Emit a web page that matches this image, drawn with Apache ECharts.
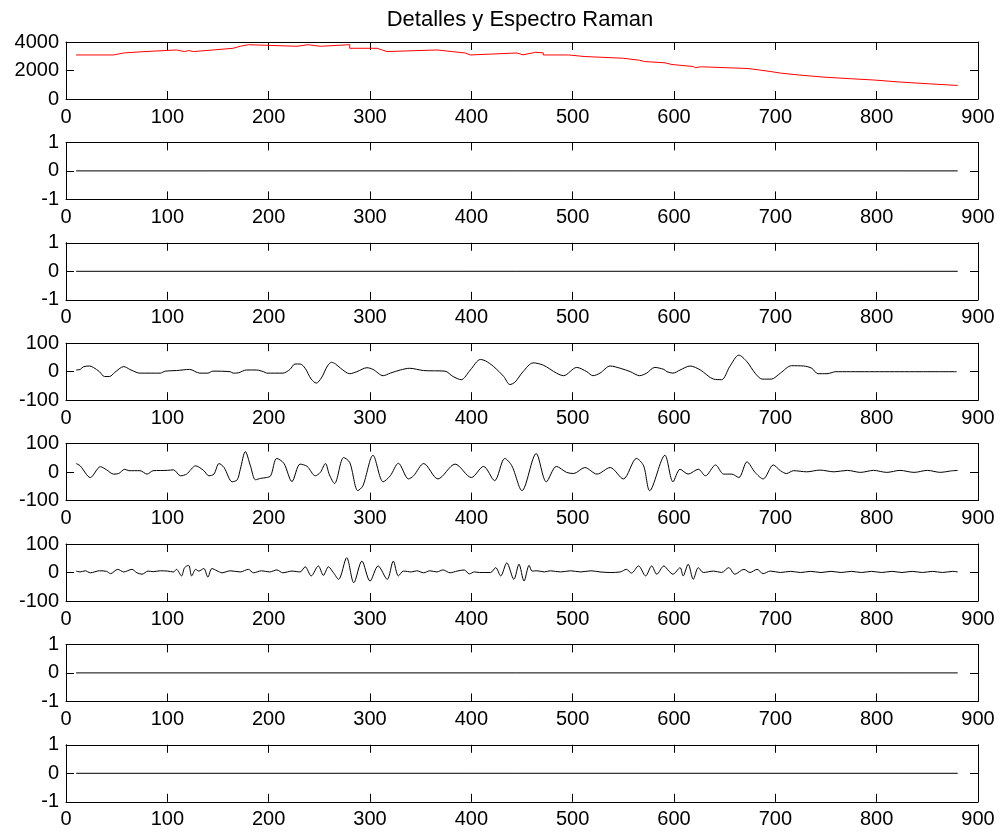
<!DOCTYPE html>
<html>
<head>
<meta charset="utf-8">
<title>Detalles y Espectro Raman</title>
<script src="https://cdn.jsdelivr.net/npm/echarts@6/dist/echarts.min.js"></script>
<style>
  html, body { margin: 0; padding: 0; background: #fff; }
  #chart { width: 1000px; height: 833px; }
</style>
</head>
<body>
<div id="chart"></div>
<script>
// Spectrum approximation (step levels: [x where level starts, level])
const ramanSteps = [
  [10,3090],[47,3230],[57,3330],[78,3440],[109,3330],[117,3400],[121,3330],[126,3440],
  [145,3560],[165,3700],[172,3810],[180,3700],[228,3810],[239,3700],[251,3810],[280,3560],
  [307,3440],[312,3330],[317,3440],[366,3330],[381,3230],[394,3090],[399,3230],[445,3100],
  [451,3240],[461,3280],[463,3240],[471,3090],[496,2980],[512,2860],[550,2720],[566,2630],
  [571,2540],[591,2420],[598,2280],[619,2200],[621,2260],[627,2140],[673,2050],[683,1930],
  [695,1810],[706,1680],[724,1540],[747,1420],[775,1330],[798,1190],[823,1070],[851,950],[880,950]
];

// Empty detail levels
const flatDetail = [[10,0],[880,0]];

// Detail level (coarse)
const detailA = [
  [10,6],[14,8],[17,17],[23,20],[27,15],[33,0],[38,-17],[43,-17],[48,-3],[57,18],[63,8],[70,-3],
  [73,-5],[93,-5],[98,2],[109,4],[122,8],[132,-5],[140,-5],[145,2],[162,0],[165,-5],[170,-4],
  [178,6],[188,6],[195,0],[198,-5],[214,-5],[221,8],[226,27],[231,27],[236,12],[242,-26],
  [247,-40],[252,-22],[258,20],[262,33],[266,27],[271,12],[280,-7],[287,0],[297,14],[303,8],
  [313,-14],[320,-5],[330,6],[339,12],[353,4],[374,2],[382,-17],[390,-28],[399,6],[409,43],
  [414,38],[422,18],[432,-17],[438,-45],[443,-37],[451,0],[461,31],[471,23],[484,-5],[491,-14],
  [504,15],[514,0],[520,-14],[527,-5],[537,20],[547,12],[557,0],[566,-14],[573,-5],[581,15],
  [590,8],[593,0],[599,-5],[606,6],[616,20],[626,6],[639,-26],[647,-28],[655,18],[664,58],
  [672,35],[680,-5],[687,-26],[696,-26],[705,-5],[716,21],[728,20],[736,12],[742,-7],[751,-7],
  [756,-3],[759,0],[879,0]
];

// Detail level (medium)
const detailB = [
  [10,30],[14,22],[24,-19],[34,19],[40,8],[47,-7],[52,-5],[58,10],[62,5],[73,5],[80,-7],[86,5],
  [100,6],[106,8],[113,-13],[119,-7],[128,22],[136,5],[141,-13],[146,-7],[151,30],[156,16],
  [164,-34],[169,-27],[172,10],[177,72],[182,22],[187,-27],[192,-22],[198,-19],[202,-13],
  [208,48],[215,31],[223,-33],[231,28],[238,20],[246,-13],[251,-1],[256,30],[260,-10],[265,-40],
  [274,51],[280,34],[288,-65],[293,-48],[303,59],[313,-34],[320,-13],[328,31],[338,-24],
  [343,-13],[353,30],[367,-24],[384,28],[400,-19],[412,20],[423,-30],[433,48],[440,22],
  [450,-65],[464,65],[474,-34],[484,20],[494,-1],[501,-5],[512,16],[524,-7],[537,16],[550,-24],
  [563,48],[570,22],[576,-65],[591,59],[599,-34],[606,10],[614,-7],[624,10],[631,-13],[641,25],
  [649,-7],[657,-7],[664,-19],[672,36],[680,-1],[688,-24],[698,25],[705,5],[711,-5],[718,5],
  [731,1],[744,7],[758,1],[771,6],[784,-1],[797,6],[810,-1],[823,6],[837,-1],[850,6],[863,-1],
  [873,4],[880,6]
];

// Detail level (fine)
const detailC = [
  [10,5],[14,2],[19,6],[24,-1],[33,6],[40,4],[44,-4],[51,11],[57,2],[65,11],[70,-1],[75,-6],
  [81,5],[86,3],[93,6],[100,5],[106,2],[109,11],[114,-12],[117,17],[121,25],[124,-12],[128,11],
  [131,5],[136,14],[140,-16],[144,14],[149,6],[154,-1],[162,6],[172,2],[180,11],[185,-1],
  [193,6],[201,2],[208,9],[214,-1],[223,5],[231,2],[236,20],[242,-12],[249,23],[254,-10],
  [259,20],[264,-1],[269,-24],[277,52],[284,-36],[292,40],[300,-30],[308,23],[317,-24],
  [323,40],[328,-12],[333,5],[341,2],[346,6],[353,-1],[359,6],[366,2],[372,9],[379,-1],
  [386,5],[393,9],[398,-5],[403,2],[408,0],[419,0],[424,17],[429,-12],[435,34],[442,-24],
  [447,29],[452,-30],[457,25],[460,5],[465,6],[472,2],[478,6],[488,2],[498,6],[508,2],[518,6],
  [527,2],[537,0],[547,2],[553,11],[558,-2],[565,23],[572,-12],[578,23],[583,-6],[590,23],
  [595,5],[599,-6],[606,17],[609,-12],[614,29],[619,-24],[624,17],[629,0],[639,5],[647,0],
  [654,17],[660,-6],[669,11],[675,0],[682,11],[688,-4],[695,5],[705,0],[715,4],[725,0],
  [735,4],[745,0],[755,4],[765,0],[775,4],[785,0],[795,4],[805,0],[815,4],[825,0],[835,4],
  [845,0],[855,4],[865,0],[875,4],[880,2]
];

// Axis ranges: x shared, y per row [min, max, step]
const xRange = [0, 900, 100];
const yRanges = [
  [0, 4000, 2000],
  [-1, 1, 1],
  [-1, 1, 1],
  [-100, 100, 100],
  [-100, 100, 100],
  [-100, 100, 100],
  [-1, 1, 1],
  [-1, 1, 1]
];
const rowData = [ramanSteps, flatDetail, flatDetail, detailA, detailB, detailC, flatDetail, flatDetail];
const rowColors = ['#ff0000', '#000', '#000', '#000', '#000', '#000', '#000', '#000'];

const FONT = '"Liberation Sans", Arial, Helvetica, sans-serif';
const plainNumber = v => String(v);
const grids = [], xAxes = [], yAxes = [], series = [];

rowData.forEach((data, i) => {
  const top = 42 + i * 100.4;
  grids.push({ left: 66, right: 22, top: top, height: 57 });
  const line = { show: true, onZero: false, lineStyle: { color: '#000', width: 1 } };
  const tick = { show: true, inside: true, length: 8, lineStyle: { color: '#000', width: 1 } };
  ['bottom', 'top'].forEach(pos => {
    xAxes.push({
      type: 'value', gridIndex: i, position: pos,
      min: xRange[0], max: xRange[1], interval: xRange[2],
      axisLine: line, axisTick: tick, splitLine: { show: false },
      axisLabel: { show: pos === 'bottom', color: '#000', fontSize: 20, fontFamily: FONT,
                   margin: 8, formatter: plainNumber }
    });
  });
  const [yMin, yMax, yStep] = yRanges[i];
  ['left', 'right'].forEach(pos => {
    yAxes.push({
      type: 'value', gridIndex: i, position: pos,
      min: yMin, max: yMax, interval: yStep,
      axisLine: line, axisTick: tick, splitLine: { show: false },
      axisLabel: { show: pos === 'left', color: '#000', fontSize: 20, fontFamily: FONT,
                   margin: 7, formatter: plainNumber }
    });
  });
  series.push({
    type: 'line',
    xAxisIndex: 2 * i, yAxisIndex: 2 * i,
    data: data,
    showSymbol: false,
    step: i === 0 ? 'end' : false,
    smooth: (i >= 3 && i <= 5) ? 0.3 : false,
    lineStyle: { color: rowColors[i], width: 1 },
    itemStyle: { color: rowColors[i] },
    silent: true
  });
});

const chart = echarts.init(document.getElementById('chart'), null, { renderer: 'canvas' });
chart.setOption({
  animation: false,
  backgroundColor: '#fff',
  title: {
    text: 'Detalles y Espectro Raman',
    left: 515, top: 4, textAlign: 'center',
    textStyle: { color: '#000', fontSize: 22, fontWeight: 'normal', fontFamily: FONT }
  },
  grid: grids,
  xAxis: xAxes,
  yAxis: yAxes,
  series: series
});
</script>
</body>
</html>
